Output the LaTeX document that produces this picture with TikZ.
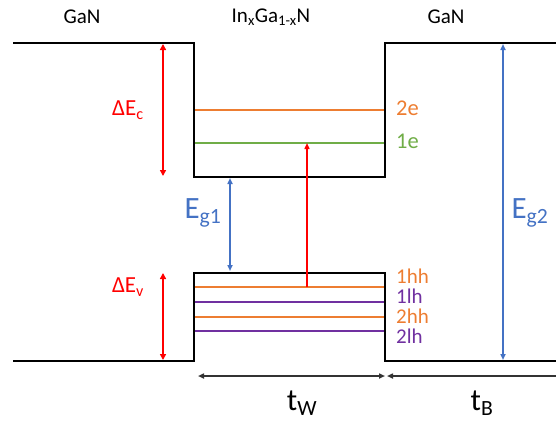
\documentclass[tikz,border=0pt]{standalone}
\usepackage{fontspec}
\setmainfont{Carlito}
\usetikzlibrary{arrows.meta}
\definecolor{lorange}{RGB}{237,125,49}
\definecolor{lgreen}{RGB}{112,173,71}
\definecolor{lpurple}{RGB}{112,48,160}
\definecolor{lblue}{RGB}{68,114,196}
\definecolor{lred}{RGB}{255,0,0}
\tikzset{
  band/.style={line width=2.4pt, black, line join=miter},
  level/.style={line width=2pt},
  dbl/.style={line width=2.2pt, {Triangle[length=6pt,width=6pt]}-{Triangle[length=6pt,width=6pt]}},
  sgl/.style={line width=1.4pt, -{Triangle[length=6pt,width=5pt]}},
  dim/.style={line width=1.6pt, {Triangle[length=6pt,width=5pt]}-{Triangle[length=6pt,width=5pt]}},
  lbl/.style={inner sep=0pt, font=\fontsize{23}{23}\selectfont},
  lvl/.style={inner sep=0pt, anchor=west, font=\fontsize{21}{21}\selectfont, text height=12pt, text depth=0pt},
  big/.style={inner sep=0pt, font=\fontsize{31}{31}\selectfont},
  top/.style={inner sep=0pt, font=\fontsize{21}{21}\selectfont},
}
\begin{document}
\begin{tikzpicture}[x=1pt,y=-1pt]
\useasboundingbox (0,0) rectangle (556,421);
% corners
\coordinate (cl) at (13,43);
\coordinate (cwl) at (194,43);
\coordinate (cbl) at (194,177);
\coordinate (cbr) at (385,177);
\coordinate (cwr) at (385,43);
\coordinate (cr) at (556,43);
\coordinate (vl) at (13,361);
\coordinate (vwl) at (194,361);
\coordinate (vtl) at (194,273);
\coordinate (vtr) at (385,273);
\coordinate (vwr) at (385,361);
\coordinate (vr) at (556,361);
% levels
\coordinate (e2l) at (195,110); \coordinate (e2r) at (385,110);
\coordinate (e1l) at (195,143); \coordinate (e1r) at (385,143);
\coordinate (h1l) at (195,287); \coordinate (h1r) at (385,287);
\coordinate (l1l) at (195,302); \coordinate (l1r) at (385,302);
\coordinate (h2l) at (195,317); \coordinate (h2r) at (385,317);
\coordinate (l2l) at (195,331); \coordinate (l2r) at (385,331);
\draw[level, lorange] (e2l) -- (e2r);
\draw[level, lgreen] (e1l) -- (e1r);
\draw[level, lorange] (h1l) -- (h1r);
\draw[level, lpurple] (l1l) -- (l1r);
\draw[level, lorange] (h2l) -- (h2r);
\draw[level, lpurple] (l2l) -- (l2r);
% bands
\draw[band] (cl) -- (cwl) -- (cbl) -- (cbr) -- (cwr) -- (cr);
\draw[band] (vl) -- (vwl) -- (vtl) -- (vtr) -- (vwr) -- (vr);
% level labels
\node[lvl, lorange, font=\fontsize{22.5}{22.5}\selectfont] (t2e) at (396,109) {2e};
\node[lvl, lgreen, font=\fontsize{22.5}{22.5}\selectfont] (t1e) at (396,142) {1e};
\node[lvl, lorange] (t1hh) at (396,277) {1hh};
\node[lvl, lpurple] (t1lh) at (396,297) {1lh};
\node[lvl, lorange] (t2hh) at (396,317) {2hh};
\node[lvl, lpurple] (t2lh) at (396,337) {2lh};
% arrows
\coordinate (dct) at (163,44); \coordinate (dcb) at (163,176);
\draw[dbl, lred] (dct) -- (dcb);
\coordinate (dvt) at (163,273); \coordinate (dvb) at (163,360);
\draw[dbl, lred] (dvt) -- (dvb);
\node[lbl, lred] (tdec) at (128,110) {ΔE\textsubscript{c}};
\node[lbl, lred] (tdev) at (128,287) {ΔE\textsubscript{v}};
\coordinate (g1t) at (230,178); \coordinate (g1b) at (230,271);
\draw[dim, lblue] (g1t) -- (g1b);
\node[big, lblue] (teg1) at (203,213) {E\textsubscript{g1}};
\coordinate (g2t) at (503,44); \coordinate (g2b) at (503,360);
\draw[dim, lblue] (g2t) -- (g2b);
\node[big, lblue] (teg2) at (530,213) {E\textsubscript{g2}};
\coordinate (trb) at (307,287); \coordinate (trt) at (307,143);
\draw[sgl, lred] (trb) -- (trt);
% thickness
\coordinate (twl) at (198,376); \coordinate (twr) at (385,376);
\draw[dim, black!80] (twl) -- (twr);
\coordinate (tbl) at (387,376); \coordinate (tbr) at (562,376);
\draw[dim, black!80] (tbl) -- (tbr);
\node[big] (ttw) at (302,403) {t\textsubscript{W}};
\node[big] (ttb) at (482,403) {t\textsubscript{B}};
% materials
\node[top] (m1) at (82,17) {GaN};
\node[top] (m2) at (271,17) {In\textsubscript{x}Ga\textsubscript{1-x}N};
\node[top] (m3) at (446,17) {GaN};
\end{tikzpicture}
\end{document}
